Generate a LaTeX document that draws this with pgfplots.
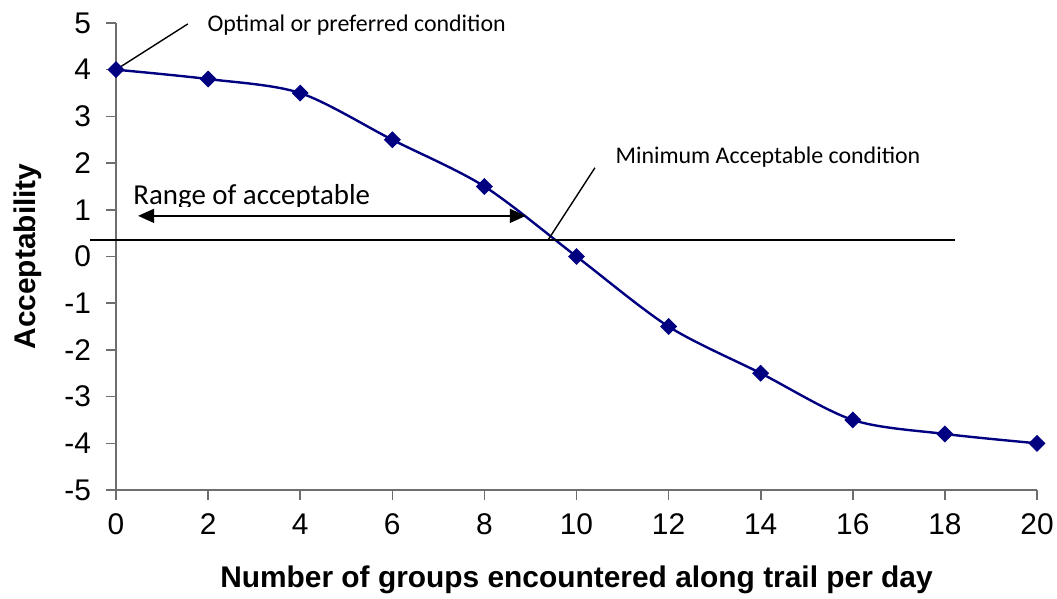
\documentclass[border=0pt]{standalone}
\usepackage{pgfplots}
\pgfplotsset{compat=1.18}
\usepackage{fontspec}
\setmainfont{Liberation Sans}
\newfontfamily\calfont{Carlito}
\usetikzlibrary{arrows.meta}
\definecolor{navy}{RGB}{0,0,128}
\definecolor{axgray}{RGB}{110,110,110}
\begin{document}
\begin{tikzpicture}
\begin{axis}[
  scale only axis, width=460.5bp, height=233.5bp,
  xmin=0, xmax=20, ymin=-5, ymax=5,
  axis x line*=bottom, axis y line*=left,
  xtick={0,2,...,20}, ytick={-5,-4,...,5},
  tick align=outside, major tick length=5bp,
  tick style={axgray, line width=0.8bp},
  axis line style={axgray, line width=0.8bp},
  ticklabel style={font=\fontsize{15}{18}\selectfont},
  yticklabel style={xshift=-4bp},
  xticklabel style={yshift=-3.5bp},
  /pgf/number format/assume math mode=true,
  xlabel={Number of groups encountered along trail per day},
  ylabel={Acceptability},
  label style={font=\bfseries\fontsize{15}{18}\selectfont},
  xlabel style={at={(axis description cs:0.5,-0.193)}, anchor=center},
  ylabel style={at={(axis description cs:-0.0955,0.5)}, anchor=center},
  clip=false,
]
\addplot[navy, line width=1.2bp, smooth, tension=0.5, mark=square*, mark size=2.4bp,
  mark options={rotate=45, fill=navy, draw=navy, solid}]
  coordinates {(0,4) (2,3.8) (4,3.5) (6,2.5) (8,1.5) (10,0) (12,-1.5) (14,-2.5) (16,-3.5) (18,-3.8) (20,-4)};
\draw[black, line width=0.8bp] (axis cs:-0.56,0.35) -- (axis cs:18.22,0.35);
\draw[black, line width=0.8bp, {Triangle[length=8bp,width=7bp]}-{Triangle[length=8bp,width=7bp]}] (axis cs:0.48,0.87) -- (axis cs:8.9,0.87);
\draw[black, line width=0.7bp] (axis cs:0,4) -- (axis cs:1.56,4.98);
\draw[black, line width=0.7bp] (axis cs:9.38,0.35) -- (axis cs:10.4,1.9);
\node[anchor=west, inner sep=0pt, font=\calfont\fontsize{12}{14}\selectfont] at (axis cs:1.98,4.96) {Optimal or preferred condition};
\node[anchor=west, inner sep=0pt, font=\calfont\fontsize{12}{14}\selectfont] at (axis cs:10.84,2.13) {Minimum Acceptable condition};
\begin{scope}
\clip (axis cs:0.2,1.08) rectangle (axis cs:9,2.5);
\node[anchor=base west, inner sep=0pt, font=\calfont\fontsize{14.5}{17}\selectfont] at (axis cs:0.37,1.124) {Range of acceptable};
\end{scope}
\coordinate (SW) at (rel axis cs:0,0);
\coordinate (NE) at (rel axis cs:1,1);
\end{axis}
\pgfresetboundingbox
\path[use as bounding box] ([shift={(-58bp,-54.5bp)}]SW) rectangle ([shift={(10bp,11.5bp)}]NE);
\end{tikzpicture}
\end{document}
